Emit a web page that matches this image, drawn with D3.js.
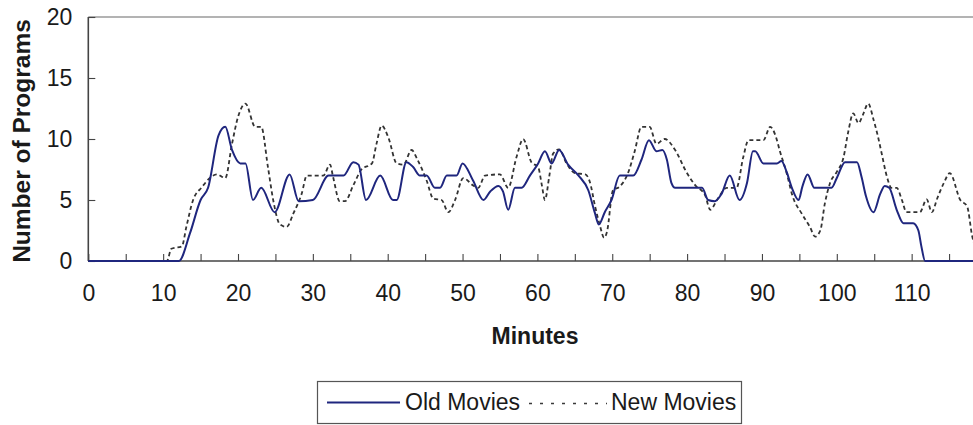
<!DOCTYPE html>
<html>
<head>
<meta charset="utf-8">
<script src="https://cdn.jsdelivr.net/npm/d3@7"></script>
<style>
  html, body { margin: 0; padding: 0; background: #fff; }
  svg { display: block; }
  text { font-family: "Liberation Sans", Arial, sans-serif; fill: #1a1a1a; }
</style>
</head>
<body>
<svg id="chart" width="973" height="425"></svg>
<script>
// Programs on air per minute, old vs new movies
const minutesOld = [0, 12.1, 13.6, 15, 16, 17.4, 18.3, 19.2, 20.3, 21, 22, 23.1, 24.9, 26.9, 28.1, 30, 32.1, 34.1, 35.4, 36.1, 37.1, 39, 40.7, 41.2, 42.5, 43.4, 44.3, 45.2, 46.3, 47, 47.9, 49.2, 50, 51.4, 52.8, 53.7, 54.8, 55.4, 56.1, 57, 57.9, 59, 60.1, 61, 61.9, 62.9, 64.1, 65.5, 66.8, 67.7, 68.2, 69, 69.9, 71, 72.8, 73.9, 74.9, 75.9, 76.7, 77.3, 77.9, 78.4, 82, 82.8, 83.7, 84.6, 85.7, 87, 88, 88.8, 89.1, 90.2, 92, 92.6, 93.3, 94, 94.9, 95.4, 96.1, 97, 99.3, 100, 101.1, 102, 102.7, 103.3, 103.9, 104.9, 105.8, 106.4, 107, 108, 108.9, 110.2, 110.9, 111.3, 111.8, 120];
const oldMovies = [0, 0, 2.3, 5.0, 6.0, 10.3, 11.0, 9.1, 8.0, 8.0, 5.0, 6.0, 4.0, 7.1, 4.9, 5.0, 7.0, 7.0, 8.1, 7.9, 5.0, 7.0, 5.0, 5.0, 8.1, 7.7, 7.0, 7.0, 6.0, 6.0, 7.0, 7.0, 8.0, 6.6, 5.0, 5.7, 6.15, 5.7, 4.2, 6.0, 6.0, 7.0, 8.0, 9.0, 8.0, 9.1, 7.9, 7.0, 5.8, 3.9, 3.0, 4.0, 5.0, 7.0, 7.0, 8.3, 9.9, 9.0, 9.1, 8.3, 6.4, 6.0, 6.0, 5.0, 4.9, 5.5, 7.0, 5.0, 6.4, 9.0, 9.0, 8.0, 8.0, 8.2, 7.3, 6.0, 5.0, 6.1, 7.1, 6.0, 6.0, 6.8, 8.1, 8.1, 8.1, 6.9, 5.3, 4.0, 5.5, 6.15, 6.0, 4.2, 3.1, 3.1, 2.5, 1.2, 0, 0];

const minutesNew = [0, 10.5, 11.1, 12.5, 13.1, 14, 15.1, 17.2, 18.3, 19.2, 20, 21, 22.3, 23.1, 24, 24.7, 25.6, 26.5, 27.4, 28.5, 29.2, 31.4, 32.3, 32.7, 33.6, 34.3, 35.4, 36.5, 37.9, 38.5, 39.2, 40.1, 41.2, 42.1, 43.2, 43.9, 45.2, 46.1, 47.2, 48.1, 49, 50.1, 51.4, 52.1, 53, 55, 56.1, 57.2, 58.1, 59.2, 60.1, 60.6, 61, 61.6, 62.1, 62.9, 63.9, 65, 66.4, 67, 67.7, 68.4, 68.9, 69.3, 70.1, 71, 72.1, 73, 73.9, 75, 75.9, 77, 78.4, 79.9, 81.1, 82.4, 83.1, 84, 85.3, 86.6, 87.5, 88.2, 90.2, 91.1, 91.8, 92.4, 93.3, 94.1, 95.3, 96.4, 97.1, 97.8, 98.4, 99.1, 100, 100.9, 101.5, 102.2, 102.9, 103.5, 104.2, 104.9, 105.5, 106, 106.7, 107.3, 108, 108.7, 109.3, 111.1, 112, 112.7, 113.4, 114.3, 115.1, 116.5, 117.4, 118.1, 119];
const newMovies = [0, 0, 1.0, 1.2, 2.8, 5.0, 6.0, 7.1, 6.8, 9.6, 11.8, 12.9, 11.0, 11.0, 7.7, 5.0, 3.0, 2.8, 3.9, 5.5, 7.0, 7.0, 7.9, 6.9, 4.9, 4.9, 6.2, 7.5, 8.0, 9.6, 11.1, 10.1, 8.0, 7.9, 9.1, 8.4, 6.6, 5.1, 5.0, 4.0, 5.0, 6.8, 6.2, 6.0, 7.0, 7.1, 6.0, 8.5, 10.0, 8.1, 7.7, 6.2, 5.0, 7.0, 8.8, 9.15, 8.0, 7.2, 7.1, 6.5, 4.5, 2.8, 1.9, 2.4, 5.8, 6.1, 7.2, 9.0, 11.0, 11.0, 9.6, 10.0, 9.1, 7.3, 6.2, 5.4, 4.2, 5.0, 6.0, 6.0, 8.5, 9.9, 9.9, 11.0, 10.3, 9.0, 7.2, 5.3, 3.9, 2.8, 2.0, 2.5, 4.7, 6.4, 7.3, 8.5, 10.5, 12.1, 11.3, 12.0, 12.9, 11.6, 10.2, 8.8, 6.9, 6.0, 6.0, 5.0, 4.0, 4.0, 5.05, 4.0, 5.1, 6.4, 7.2, 5.0, 4.5, 2.0, 0.5];

const xTickValues = d3.range(0, 121, 5);
const xLabelValues = [0, 10, 20, 30, 40, 50, 60, 70, 80, 90, 100, 110];
const yTickValues = [0, 5, 10, 15, 20];

const seriesNames = ["Old Movies", "New Movies"];
const xTitle = "Minutes";
const yTitle = "Number of Programs";

const svg = d3.select("#chart");
const W = 973, H = 425;
const margin = { left: 88.3, top: 17, bottom: 261 };

const x = d3.scaleLinear().domain([0, 120]).range([margin.left, margin.left + 120 * 7.485]);
const y = d3.scaleLinear().domain([0, 20]).range([margin.bottom, margin.top]);

// plot frame: grey top edge, dark left and bottom axes
svg.append("line")
  .attr("x1", margin.left).attr("x2", W)
  .attr("y1", margin.top).attr("y2", margin.top)
  .attr("stroke", "#9a9a9a").attr("stroke-width", 1.6);

// x axis
const xAxis = d3.axisBottom(x)
  .tickValues(xTickValues)
  .tickSizeInner(-7).tickSizeOuter(0)
  .tickPadding(24)
  .tickFormat(d => xLabelValues.includes(d) ? d : "");
const gx = svg.append("g").attr("transform", `translate(0,${margin.bottom})`).call(xAxis);
gx.select(".domain").remove();
gx.selectAll(".tick line").attr("stroke", "#444").attr("stroke-width", 1.1);
gx.selectAll(".tick text").attr("font-size", 23).attr("font-family", null).attr("fill", "#1a1a1a");

// y axis
const yAxis = d3.axisLeft(y)
  .tickValues(yTickValues)
  .tickSizeInner(-7).tickSizeOuter(0)
  .tickPadding(16);
const gy = svg.append("g").attr("transform", `translate(${margin.left},0)`).call(yAxis);
gy.select(".domain").remove();
gy.selectAll(".tick line").attr("stroke", "#444").attr("stroke-width", 1.1);
gy.selectAll(".tick text").attr("font-size", 23).attr("font-family", null).attr("fill", "#1a1a1a");

svg.append("line")
  .attr("x1", margin.left).attr("x2", W)
  .attr("y1", margin.bottom).attr("y2", margin.bottom)
  .attr("stroke", "#444").attr("stroke-width", 1.6);
svg.append("line")
  .attr("x1", margin.left).attr("x2", margin.left)
  .attr("y1", margin.top).attr("y2", margin.bottom)
  .attr("stroke", "#444").attr("stroke-width", 1.6);

// series lines
const line = d3.line()
  .x(d => x(d[0]))
  .y(d => y(d[1]))
  .curve(d3.curveMonotoneX);

svg.append("path")
  .datum(d3.zip(minutesNew, newMovies))
  .attr("d", line)
  .attr("fill", "none")
  .attr("stroke", "#333")
  .attr("stroke-width", 1.8)
  .attr("stroke-dasharray", "4,3");

svg.append("path")
  .datum(d3.zip(minutesOld, oldMovies))
  .attr("d", line)
  .attr("fill", "none")
  .attr("stroke", "#1f267e")
  .attr("stroke-width", 2);

// axis titles
svg.append("text")
  .attr("x", 535).attr("y", 344)
  .attr("text-anchor", "middle")
  .attr("font-size", 23).attr("font-weight", "bold")
  .text(xTitle);

svg.append("text")
  .attr("transform", "translate(30,141) rotate(-90)")
  .attr("text-anchor", "middle")
  .attr("font-size", 24.5).attr("font-weight", "bold")
  .text(yTitle);

// legend
const legend = svg.append("g");
legend.append("rect")
  .attr("x", 317.5).attr("y", 381.5)
  .attr("width", 424).attr("height", 42)
  .attr("fill", "#fff").attr("stroke", "#555").attr("stroke-width", 1.2);
legend.append("line")
  .attr("x1", 327).attr("x2", 400).attr("y1", 402.5).attr("y2", 402.5)
  .attr("stroke", "#1f267e").attr("stroke-width", 2);
legend.append("text")
  .attr("x", 405).attr("y", 409.5)
  .attr("font-size", 23)
  .text(seriesNames[0]);
legend.append("line")
  .attr("x1", 529).attr("x2", 607).attr("y1", 403.5).attr("y2", 403.5)
  .attr("stroke", "#3a3a3a").attr("stroke-width", 1.3)
  .attr("stroke-dasharray", "3,8");
legend.append("text")
  .attr("x", 611).attr("y", 409.5)
  .attr("font-size", 23)
  .text(seriesNames[1]);
</script>
</body>
</html>
